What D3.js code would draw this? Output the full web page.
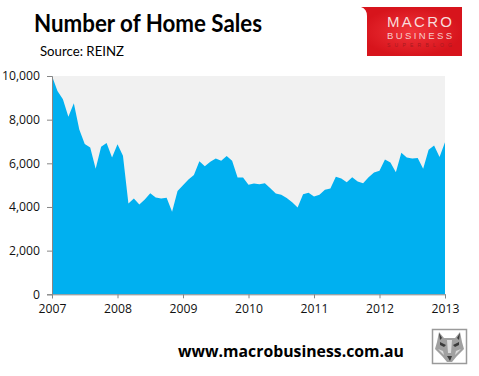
<!DOCTYPE html>
<html>

<head>
	<title>Number of Home Sales</title>
	<meta charset="utf-8">
	<script src="https://cdn.jsdelivr.net/npm/d3@7"></script>
</head>

<style>
	html, body {
		margin: 0;
		background: #fff;
	}

	svg {
		display: block;
	}

	.tick text {
		font-family: "Open Sans", sans-serif;
		font-size: 12.2px;
		fill: #111;
	}
</style>

<body>
	<svg width="479" height="376"></svg>

	<script>
		var width = 479,
			height = 376

		// monthly, Jan 2007 to Jan 2013
		var startYear = 2007
		var sales = [
			10000, 9310, 8930, 8130, 8750, 7550, 6880, 6730, 5750, 6760, 6930, 6270,
			6870, 6350, 4160, 4390, 4110, 4340, 4630, 4430, 4390, 4420, 3780, 4730,
			4990, 5260, 5460, 6100, 5870, 6070, 6220, 6120, 6330, 6120, 5350, 5350,
			5015, 5075, 5045, 5090, 4860, 4617, 4555, 4417, 4220, 3975, 4585, 4647,
			4480, 4555, 4785, 4845, 5380, 5305, 5135, 5365, 5167, 5090, 5365, 5580,
			5655, 6175, 6040, 5595, 6480, 6270, 6220, 6240, 5750, 6620, 6815, 6285,
			6970
		]
		var yTicks = [0, 2000, 4000, 6000, 8000, 10000]
		var xTicks = [2007, 2008, 2009, 2010, 2011, 2012, 2013]

		var svg = d3.select('svg')

		var x = d3.scaleLinear().domain([2007, 2013]).range([52, 445])
		var y = d3.scaleLinear().domain([0, 10000]).range([294.3, 76])

		function monthX(d, i) {
			return x(startYear + i / 12)
		}

		// plot background
		svg.append('rect')
			.attr('x', x(2007))
			.attr('y', y(10000))
			.attr('width', x(2013) - x(2007))
			.attr('height', y(0) - y(10000))
			.attr('fill', '#f1f1f1')

		var area = d3.area()
			.x(monthX)
			.y0(y(0))
			.y1(function(d) {
				return y(d)
			})

		svg.append('path')
			.datum(sales)
			.attr('d', area)
			.attr('fill', '#00b0f0')

		var yAxis = d3.axisLeft(y)
			.tickValues(yTicks)
			.tickFormat(d3.format(','))
			.tickSize(5)
			.tickPadding(7)

		var xAxis = d3.axisBottom(x)
			.tickValues(xTicks)
			.tickFormat(d3.format('d'))
			.tickSize(4)
			.tickPadding(6)

		svg.append('g')
			.attr('transform', 'translate(' + x(2007) + ',0)')
			.call(yAxis)

		svg.append('g')
			.attr('transform', 'translate(0,' + y(0) + ')')
			.call(xAxis)

		svg.selectAll('.domain').attr('stroke', '#868686')
		svg.selectAll('.tick line').attr('stroke', '#868686')

		// headings
		svg.append('text')
			.attr('x', 34)
			.attr('y', 32)
			.attr('font-family', 'Lato, sans-serif')
			.attr('font-weight', 700)
			.attr('font-size', 24)
			.attr('textLength', 228)
			.attr('lengthAdjust', 'spacingAndGlyphs')
			.attr('fill', '#000')
			.text('Number of Home Sales')

		svg.append('text')
			.attr('x', 40)
			.attr('y', 56)
			.attr('font-family', 'Lato, sans-serif')
			.attr('font-size', 13)
			.attr('textLength', 84)
			.attr('lengthAdjust', 'spacingAndGlyphs')
			.attr('fill', '#000')
			.text('Source: REINZ')

		svg.append('text')
			.attr('x', 178)
			.attr('y', 357)
			.attr('font-family', '"Open Sans", sans-serif')
			.attr('font-weight', 700)
			.attr('font-size', 16.5)
			.attr('textLength', 226)
			.attr('lengthAdjust', 'spacingAndGlyphs')
			.attr('fill', '#000')
			.text('www.macrobusiness.com.au')

		// logo, top right
		var defs = svg.append('defs')
		var grad = defs.append('radialGradient').attr('id', 'red')
		grad.append('stop').attr('offset', '0%').attr('stop-color', '#f0343a')
		grad.append('stop').attr('offset', '100%').attr('stop-color', '#d7141c')

		var logo = svg.append('g')
		logo.append('path')
			.attr('d', 'M361,7H462V56H367V16Q367,9 361,7Z')
			.attr('fill', 'url(#red)')

		var logoText = [
			{ t: 'MACRO', y: 27, s: 15, c: '#f8dcdc' },
			{ t: 'BUSINESS', y: 39, s: 9.5, c: '#f6cccc' },
			{ t: 'SUPERBLOG', y: 47, s: 5, c: '#a81a20' }
		]
		logo.selectAll('text')
			.data(logoText)
			.enter()
			.append('text')
			.attr('x', 387)
			.attr('y', function(d) {
				return d.y
			})
			.attr('font-family', '"Liberation Sans", sans-serif')
			.attr('font-size', function(d) {
				return d.s
			})
			.attr('textLength', 65)
			.attr('lengthAdjust', 'spacing')
			.attr('fill', function(d) {
				return d.c
			})
			.text(function(d) {
				return d.t
			})

		// wolf badge, bottom right
		var wolf = svg.append('g').attr('transform', 'translate(432,329)')
		wolf.append('rect')
			.attr('x', 0.5)
			.attr('y', 0.5)
			.attr('width', 34)
			.attr('height', 34)
			.attr('fill', '#fff')
			.attr('stroke', '#9a9a9a')
			.attr('stroke-width', 1.5)
		wolf.append('path')
			.attr('d', 'M7,3L12,9H23L28,3L30,13L32,20L25,27L20,33H15L10,27L3,20L5,13Z')
			.attr('fill', '#a0a0a0')
		wolf.append('path')
			.attr('d', 'M8,13L14,16L12,18L8,16ZM27,13L21,16L23,18L27,16ZM15,27H20L18,32ZM7,4L10,9L8,11ZM28,4L25,9L27,11Z')
			.attr('fill', '#3a3a3a')
		wolf.append('path')
			.attr('d', 'M15,11H20L19,24H16ZM6,20L11,22L12,26ZM29,20L24,22L23,26Z')
			.attr('fill', '#dcdcdc')
	</script>
</body>

</html>
